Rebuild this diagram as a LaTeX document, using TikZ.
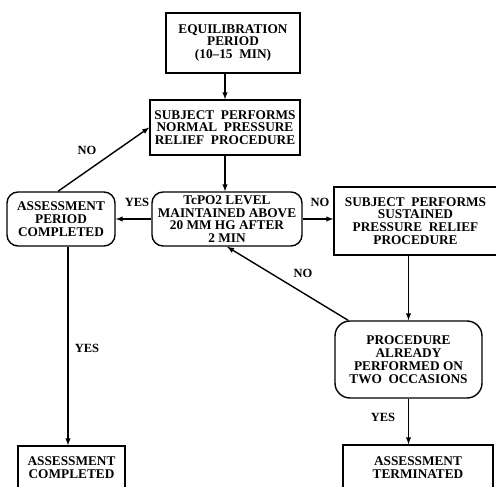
\documentclass[tikz,border=0pt]{standalone}
\usepackage{fontspec}
\setmainfont{Liberation Serif}
\usetikzlibrary{positioning}
\tikzset{
    flow-box/.style = {draw, line width=1.4pt, rectangle, align=center, inner sep=0pt,
                       font=\bfseries\fontsize{13.3}{12.8}\selectfont},
    flow-round/.style = {flow-box, rounded corners=11pt},
    flow-arrow/.style = {-latex, line width=1.4pt},
    flow-label/.style = {font=\bfseries\fontsize{12.5}{12}\selectfont},
}

\begin{document}
\begin{tikzpicture}[x=1pt,y=-1pt]
\useasboundingbox (0,0) rectangle (496,487);
\clip (0,0) rectangle (496,487);

% boxes
\node [flow-box, minimum width=134pt, minimum height=60pt] (equil) at (233,43)
    {EQUILIBRATION\\PERIOD\\(10--15\ \ MIN)};
\node [flow-box, minimum width=150pt, minimum height=55pt] (normal) at (225,127.5)
    {SUBJECT\ \ PERFORMS\\NORMAL\ \ PRESSURE\\RELIEF\ \ PROCEDURE};
\node [flow-round, minimum width=150pt, minimum height=54pt] (tcpo) at (227,219)
    {TcPO2 LEVEL\\MAINTAINED ABOVE\\20 MM HG AFTER\\2 MIN};
\node [flow-round, minimum width=108pt, minimum height=54pt] (period) at (61,219)
    {ASSESSMENT\\PERIOD\\COMPLETED};
\node [flow-box, minimum width=163pt, minimum height=68pt] (sustained) at (415.5,221)
    {SUBJECT\ \ PERFORMS\\SUSTAINED\\PRESSURE\ \ RELIEF\\PROCEDURE};
\node [flow-round, rounded corners=15pt, minimum width=147pt, minimum height=77pt] (already) at (408.5,359.5)
    {PROCEDURE\\ALREADY\\PERFORMED ON\\TWO\ \ OCCASIONS};
\node [flow-box, minimum width=107pt, minimum height=44pt] (completed) at (71.5,468)
    {ASSESSMENT\\COMPLETED};
\node [flow-box, minimum width=150pt, minimum height=45pt] (terminated) at (418,467.5)
    {ASSESSMENT\\TERMINATED};

% connectors
\draw [flow-arrow] (equil.south -| normal.north) -- (normal.north);
\draw [flow-arrow] (normal.south) -- (normal.south |- tcpo.north);
\draw [flow-arrow] (tcpo.west) -- (period.east);
\draw [flow-arrow] (tcpo.east) -- (tcpo.east -| sustained.west);
\draw [flow-arrow] ([xshift=-3pt]period.north) -- (normal.west);
\draw [flow-arrow] ([xshift=7pt]period.south) -- ([xshift=-3.5pt]completed.north);
\draw [flow-arrow] (sustained.south -| already.north) -- (already.north);
\draw [flow-arrow] (already.147) -- (tcpo.south);
\draw [flow-arrow] (already.south) -- (already.south |- terminated.north);

% labels
\node [flow-label] (yes-left) at (137,202) {YES};
\node [flow-label] (no-right) at (320,202) {NO};
\node [flow-label] (no-top) at (87,150) {NO};
\node [flow-label] (yes-down) at (87,348) {YES};
\node [flow-label] (no-back) at (303,273) {NO};
\node [flow-label] (yes-end) at (383,417) {YES};
\end{tikzpicture}
\end{document}
